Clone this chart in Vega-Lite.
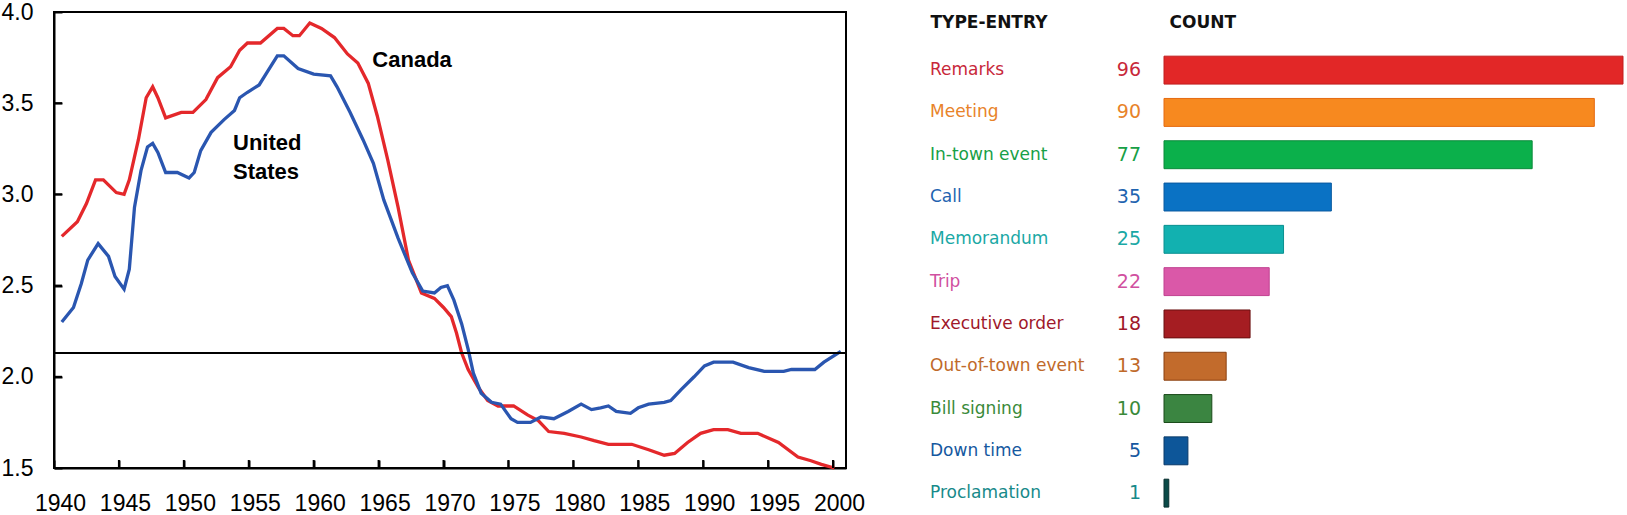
{
  "$schema": "https://vega.github.io/schema/vega-lite/v6.json",
  "padding": {"left": 0, "top": 0, "right": 0, "bottom": 0},
  "background": "white",
  "bounds": "flush",
  "spacing": 318,
  "config": {"view": {"stroke": null}, "axis": {"grid": false}},
  "hconcat": [
    {
      "width": 792,
      "height": 456,
      "view": {"stroke": "black", "strokeWidth": 2},
      "layer": [
        {
          "data": {"values": [
            {"country": "Canada", "year": 1940.6, "value": 2.77},
            {"country": "Canada", "year": 1941.8, "value": 2.85},
            {"country": "Canada", "year": 1942.5, "value": 2.95},
            {"country": "Canada", "year": 1943.2, "value": 3.08},
            {"country": "Canada", "year": 1943.8, "value": 3.08},
            {"country": "Canada", "year": 1944.8, "value": 3.01},
            {"country": "Canada", "year": 1945.4, "value": 3.00},
            {"country": "Canada", "year": 1945.8, "value": 3.08},
            {"country": "Canada", "year": 1946.5, "value": 3.30},
            {"country": "Canada", "year": 1947.1, "value": 3.53},
            {"country": "Canada", "year": 1947.6, "value": 3.59},
            {"country": "Canada", "year": 1948.0, "value": 3.53},
            {"country": "Canada", "year": 1948.6, "value": 3.42},
            {"country": "Canada", "year": 1949.8, "value": 3.45},
            {"country": "Canada", "year": 1950.7, "value": 3.45},
            {"country": "Canada", "year": 1951.7, "value": 3.52},
            {"country": "Canada", "year": 1952.6, "value": 3.64},
            {"country": "Canada", "year": 1953.6, "value": 3.70},
            {"country": "Canada", "year": 1954.3, "value": 3.79},
            {"country": "Canada", "year": 1954.9, "value": 3.83},
            {"country": "Canada", "year": 1955.9, "value": 3.83},
            {"country": "Canada", "year": 1957.2, "value": 3.91},
            {"country": "Canada", "year": 1957.7, "value": 3.91},
            {"country": "Canada", "year": 1958.4, "value": 3.87},
            {"country": "Canada", "year": 1958.9, "value": 3.87},
            {"country": "Canada", "year": 1959.7, "value": 3.94},
            {"country": "Canada", "year": 1960.6, "value": 3.91},
            {"country": "Canada", "year": 1961.6, "value": 3.86},
            {"country": "Canada", "year": 1962.6, "value": 3.77},
            {"country": "Canada", "year": 1963.4, "value": 3.72},
            {"country": "Canada", "year": 1964.2, "value": 3.61},
            {"country": "Canada", "year": 1964.9, "value": 3.43},
            {"country": "Canada", "year": 1965.7, "value": 3.19},
            {"country": "Canada", "year": 1966.5, "value": 2.93},
            {"country": "Canada", "year": 1967.3, "value": 2.64},
            {"country": "Canada", "year": 1968.3, "value": 2.46},
            {"country": "Canada", "year": 1969.3, "value": 2.43},
            {"country": "Canada", "year": 1970.0, "value": 2.38},
            {"country": "Canada", "year": 1970.6, "value": 2.33},
            {"country": "Canada", "year": 1971.0, "value": 2.24},
            {"country": "Canada", "year": 1971.4, "value": 2.13},
            {"country": "Canada", "year": 1971.9, "value": 2.04},
            {"country": "Canada", "year": 1972.7, "value": 1.94},
            {"country": "Canada", "year": 1973.4, "value": 1.87},
            {"country": "Canada", "year": 1974.2, "value": 1.84},
            {"country": "Canada", "year": 1975.4, "value": 1.84},
            {"country": "Canada", "year": 1976.5, "value": 1.79},
            {"country": "Canada", "year": 1977.3, "value": 1.76},
            {"country": "Canada", "year": 1978.1, "value": 1.70},
            {"country": "Canada", "year": 1979.3, "value": 1.69},
            {"country": "Canada", "year": 1980.6, "value": 1.67},
            {"country": "Canada", "year": 1981.6, "value": 1.65},
            {"country": "Canada", "year": 1982.7, "value": 1.63},
            {"country": "Canada", "year": 1984.5, "value": 1.63},
            {"country": "Canada", "year": 1985.8, "value": 1.60},
            {"country": "Canada", "year": 1987.0, "value": 1.57},
            {"country": "Canada", "year": 1987.8, "value": 1.58},
            {"country": "Canada", "year": 1988.8, "value": 1.64},
            {"country": "Canada", "year": 1989.8, "value": 1.69},
            {"country": "Canada", "year": 1990.8, "value": 1.71},
            {"country": "Canada", "year": 1991.9, "value": 1.71},
            {"country": "Canada", "year": 1992.9, "value": 1.69},
            {"country": "Canada", "year": 1994.2, "value": 1.69},
            {"country": "Canada", "year": 1995.8, "value": 1.64},
            {"country": "Canada", "year": 1997.3, "value": 1.56},
            {"country": "Canada", "year": 1998.3, "value": 1.54},
            {"country": "Canada", "year": 1999.1, "value": 1.52},
            {"country": "Canada", "year": 2000.1, "value": 1.50},
            {"country": "United States", "year": 1940.6, "value": 2.30},
            {"country": "United States", "year": 1941.5, "value": 2.38},
            {"country": "United States", "year": 1942.1, "value": 2.51},
            {"country": "United States", "year": 1942.6, "value": 2.64},
            {"country": "United States", "year": 1943.4, "value": 2.73},
            {"country": "United States", "year": 1944.2, "value": 2.66},
            {"country": "United States", "year": 1944.7, "value": 2.55},
            {"country": "United States", "year": 1945.4, "value": 2.48},
            {"country": "United States", "year": 1945.8, "value": 2.59},
            {"country": "United States", "year": 1946.2, "value": 2.93},
            {"country": "United States", "year": 1946.7, "value": 3.13},
            {"country": "United States", "year": 1947.2, "value": 3.26},
            {"country": "United States", "year": 1947.6, "value": 3.28},
            {"country": "United States", "year": 1948.0, "value": 3.23},
            {"country": "United States", "year": 1948.6, "value": 3.12},
            {"country": "United States", "year": 1949.5, "value": 3.12},
            {"country": "United States", "year": 1950.4, "value": 3.09},
            {"country": "United States", "year": 1950.8, "value": 3.12},
            {"country": "United States", "year": 1951.3, "value": 3.24},
            {"country": "United States", "year": 1952.1, "value": 3.34},
            {"country": "United States", "year": 1953.1, "value": 3.41},
            {"country": "United States", "year": 1953.9, "value": 3.46},
            {"country": "United States", "year": 1954.3, "value": 3.53},
            {"country": "United States", "year": 1954.9, "value": 3.56},
            {"country": "United States", "year": 1955.8, "value": 3.60},
            {"country": "United States", "year": 1956.5, "value": 3.68},
            {"country": "United States", "year": 1957.2, "value": 3.76},
            {"country": "United States", "year": 1957.7, "value": 3.76},
            {"country": "United States", "year": 1958.8, "value": 3.69},
            {"country": "United States", "year": 1960.0, "value": 3.66},
            {"country": "United States", "year": 1961.3, "value": 3.65},
            {"country": "United States", "year": 1961.8, "value": 3.59},
            {"country": "United States", "year": 1962.8, "value": 3.45},
            {"country": "United States", "year": 1963.8, "value": 3.30},
            {"country": "United States", "year": 1964.6, "value": 3.17},
            {"country": "United States", "year": 1965.4, "value": 2.97},
            {"country": "United States", "year": 1966.5, "value": 2.76},
            {"country": "United States", "year": 1967.6, "value": 2.57},
            {"country": "United States", "year": 1968.4, "value": 2.47},
            {"country": "United States", "year": 1969.3, "value": 2.46},
            {"country": "United States", "year": 1969.8, "value": 2.49},
            {"country": "United States", "year": 1970.3, "value": 2.50},
            {"country": "United States", "year": 1970.8, "value": 2.42},
            {"country": "United States", "year": 1971.4, "value": 2.29},
            {"country": "United States", "year": 1971.9, "value": 2.15},
            {"country": "United States", "year": 1972.3, "value": 2.02},
            {"country": "United States", "year": 1972.9, "value": 1.91},
            {"country": "United States", "year": 1973.7, "value": 1.86},
            {"country": "United States", "year": 1974.4, "value": 1.85},
            {"country": "United States", "year": 1975.2, "value": 1.77},
            {"country": "United States", "year": 1975.7, "value": 1.75},
            {"country": "United States", "year": 1976.7, "value": 1.75},
            {"country": "United States", "year": 1977.5, "value": 1.78},
            {"country": "United States", "year": 1978.5, "value": 1.77},
            {"country": "United States", "year": 1979.6, "value": 1.81},
            {"country": "United States", "year": 1980.6, "value": 1.85},
            {"country": "United States", "year": 1981.4, "value": 1.82},
            {"country": "United States", "year": 1982.1, "value": 1.83},
            {"country": "United States", "year": 1982.7, "value": 1.84},
            {"country": "United States", "year": 1983.3, "value": 1.81},
            {"country": "United States", "year": 1984.4, "value": 1.80},
            {"country": "United States", "year": 1985.0, "value": 1.83},
            {"country": "United States", "year": 1985.8, "value": 1.85},
            {"country": "United States", "year": 1987.0, "value": 1.86},
            {"country": "United States", "year": 1987.5, "value": 1.87},
            {"country": "United States", "year": 1988.3, "value": 1.93},
            {"country": "United States", "year": 1989.3, "value": 2.00},
            {"country": "United States", "year": 1990.1, "value": 2.06},
            {"country": "United States", "year": 1990.8, "value": 2.08},
            {"country": "United States", "year": 1992.3, "value": 2.08},
            {"country": "United States", "year": 1993.5, "value": 2.05},
            {"country": "United States", "year": 1994.7, "value": 2.03},
            {"country": "United States", "year": 1996.2, "value": 2.03},
            {"country": "United States", "year": 1996.8, "value": 2.04},
            {"country": "United States", "year": 1998.6, "value": 2.04},
            {"country": "United States", "year": 1999.3, "value": 2.08},
            {"country": "United States", "year": 2000.6, "value": 2.14}
          ]},
          "mark": {"type": "line", "strokeWidth": 3.3, "interpolate": "linear"},
          "encoding": {
            "x": {
              "field": "year", "type": "quantitative",
              "scale": {"domain": [1940, 2001], "nice": false, "zero": false},
              "axis": {
                "values": [1940, 1945, 1950, 1955, 1960, 1965, 1970, 1975, 1980, 1985, 1990, 1995, 2000],
                "format": "d", "title": null,
                "labelFont": "Liberation Sans", "labelFontSize": 23, "labelColor": "black",
                "labelPadding": 32, "labelOffset": 6, "labelFlush": false, "labelOverlap": false, "labelBound": false,
                "tickSize": -8, "tickWidth": 2, "tickColor": "black",
                "domainColor": "black", "domainWidth": 2, "grid": false
              }
            },
            "y": {
              "field": "value", "type": "quantitative",
              "scale": {"domain": [1.5, 4.0], "nice": false, "zero": false},
              "axis": {
                "values": [1.5, 2.0, 2.5, 3.0, 3.5, 4.0],
                "format": ".1f", "title": null,
                "labelFont": "Liberation Sans", "labelFontSize": 23, "labelColor": "black",
                "labelPadding": 29, "labelFlush": false, "labelOverlap": false, "labelBound": false,
                "tickSize": -8, "tickWidth": 2, "tickColor": "black",
                "domainColor": "black", "domainWidth": 2, "grid": false
              }
            },
            "color": {
              "field": "country", "type": "nominal",
              "scale": {"domain": ["Canada", "United States"], "range": ["#e4282b", "#2a56b0"]},
              "legend": null
            }
          }
        },
        {
          "data": {"values": [{"level": 2.13}]},
          "mark": {"type": "rule", "color": "black", "strokeWidth": 2},
          "encoding": {"y": {"field": "level", "type": "quantitative", "title": null}}
        },
        {
          "data": {"values": [{"tick": 1945}, {"tick": 1950}, {"tick": 1955}, {"tick": 1960}, {"tick": 1965}, {"tick": 1970}, {"tick": 1975}, {"tick": 1980}, {"tick": 1985}, {"tick": 1990}, {"tick": 1995}, {"tick": 2000}]},
          "mark": {"type": "rule", "color": "black", "strokeWidth": 2},
          "encoding": {
            "x": {"field": "tick", "type": "quantitative", "title": null},
            "y": {"datum": 1.5, "type": "quantitative"},
            "y2": {"datum": 1.544}
          }
        },
        {
          "data": {"values": [{"tick": 2.0}, {"tick": 2.5}, {"tick": 3.0}, {"tick": 3.5}]},
          "mark": {"type": "rule", "color": "black", "strokeWidth": 2},
          "encoding": {
            "y": {"field": "tick", "type": "quantitative", "title": null},
            "x": {"datum": 1940, "type": "quantitative"},
            "x2": {"datum": 1940.62}
          }
        },
        {
          "data": {"values": [{}]},
          "mark": {"type": "text", "font": "Liberation Sans", "fontSize": 22, "fontWeight": "bold", "align": "center", "baseline": "middle", "color": "black"},
          "encoding": {
            "x": {"datum": 1967.58, "type": "quantitative"},
            "y": {"datum": 3.737, "type": "quantitative"},
            "text": {"value": "Canada"}
          }
        },
        {
          "data": {"values": [{}]},
          "mark": {"type": "text", "font": "Liberation Sans", "fontSize": 22, "fontWeight": "bold", "align": "left", "baseline": "middle", "lineHeight": 29, "color": "black"},
          "encoding": {
            "x": {"datum": 1953.79, "type": "quantitative"},
            "y": {"datum": 3.282, "type": "quantitative"},
            "text": {"value": ["United", "States"]}
          }
        }
      ]
    },
    {
      "width": 459,
      "height": 500,
      "view": {"stroke": null},
      "data": {"values": [
        {"type": "Remarks", "count": 96},
        {"type": "Meeting", "count": 90},
        {"type": "In-town event", "count": 77},
        {"type": "Call", "count": 35},
        {"type": "Memorandum", "count": 25},
        {"type": "Trip", "count": 22},
        {"type": "Executive order", "count": 18},
        {"type": "Out-of-town event", "count": 13},
        {"type": "Bill signing", "count": 10},
        {"type": "Down time", "count": 5},
        {"type": "Proclamation", "count": 1}
      ]},
      "encoding": {
        "y": {
          "field": "type", "type": "nominal", "sort": null,
          "scale": {"paddingInner": 0.34, "paddingOuter": 0.58, "align": 0.9},
          "axis": {
            "title": "TYPE-ENTRY", "titleAngle": 0, "titleX": -234, "titleY": 10,
            "titleAlign": "left", "titleBaseline": "middle",
            "titleFont": "DejaVu Sans", "titleFontSize": 17, "titleFontWeight": "bold", "titleColor": "#111111",
            "labels": false, "ticks": false, "domain": false, "grid": false
          }
        }
      },
      "layer": [
        {
          "mark": {"type": "bar", "strokeWidth": 1},
          "encoding": {
            "x": {
              "field": "count", "type": "quantitative",
              "scale": {"domain": [0, 96], "nice": false},
              "axis": {
                "orient": "top", "title": "COUNT", "titleX": 5, "titleY": 10,
                "titleAlign": "left", "titleBaseline": "middle", "titleAnchor": "start",
                "titleFont": "DejaVu Sans", "titleFontSize": 17, "titleFontWeight": "bold", "titleColor": "#111111",
                "labels": false, "ticks": false, "domain": false, "grid": false
              }
            },
            "fill": {
              "field": "type", "type": "nominal", "legend": null,
              "scale": {
                "domain": ["Remarks", "Meeting", "In-town event", "Call", "Memorandum", "Trip", "Executive order", "Out-of-town event", "Bill signing", "Down time", "Proclamation"],
                "range": ["#e22727", "#f7891f", "#0bb04b", "#0a72c4", "#12b1b0", "#da58a8", "#a51d22", "#c26b2c", "#3b8541", "#0d5699", "#0a4a48"]
              }
            },
            "stroke": {
              "field": "type", "type": "nominal", "legend": null,
              "scale": {
                "domain": ["Remarks", "Meeting", "In-town event", "Call", "Memorandum", "Trip", "Executive order", "Out-of-town event", "Bill signing", "Down time", "Proclamation"],
                "range": ["#c01e1e", "#e56a10", "#0a8a3a", "#0a5aa0", "#0a9090", "#c04090", "#6a1010", "#8a4010", "#1a4a1a", "#0a3a6a", "#0a3030"]
              }
            }
          }
        },
        {
          "mark": {"type": "text", "align": "right", "baseline": "middle", "dx": -23, "font": "DejaVu Sans", "fontSize": 19},
          "encoding": {
            "x": {"datum": 0, "type": "quantitative"},
            "text": {"field": "count", "type": "quantitative"},
            "fill": {
              "field": "type", "type": "nominal", "legend": null,
              "scale": {
                "domain": ["Remarks", "Meeting", "In-town event", "Call", "Memorandum", "Trip", "Executive order", "Out-of-town event", "Bill signing", "Down time", "Proclamation"],
                "range": ["#c8283a", "#e8832a", "#17a046", "#1f64b0", "#1aa8a5", "#d050a0", "#a0182a", "#c06a2a", "#3a8a3a", "#1558a0", "#178a8a"]
              }
            }
          }
        },
        {
          "mark": {"type": "text", "align": "left", "baseline": "middle", "dx": -234, "font": "DejaVu Sans", "fontSize": 17},
          "encoding": {
            "x": {"datum": 0, "type": "quantitative"},
            "text": {"field": "type", "type": "nominal"},
            "fill": {
              "field": "type", "type": "nominal", "legend": null,
              "scale": {
                "domain": ["Remarks", "Meeting", "In-town event", "Call", "Memorandum", "Trip", "Executive order", "Out-of-town event", "Bill signing", "Down time", "Proclamation"],
                "range": ["#c8283a", "#e8832a", "#17a046", "#1f64b0", "#1aa8a5", "#d050a0", "#a0182a", "#c06a2a", "#3a8a3a", "#1558a0", "#178a8a"]
              }
            }
          }
        }
      ],
      "resolve": {"scale": {"fill": "independent"}}
    }
  ]
}
